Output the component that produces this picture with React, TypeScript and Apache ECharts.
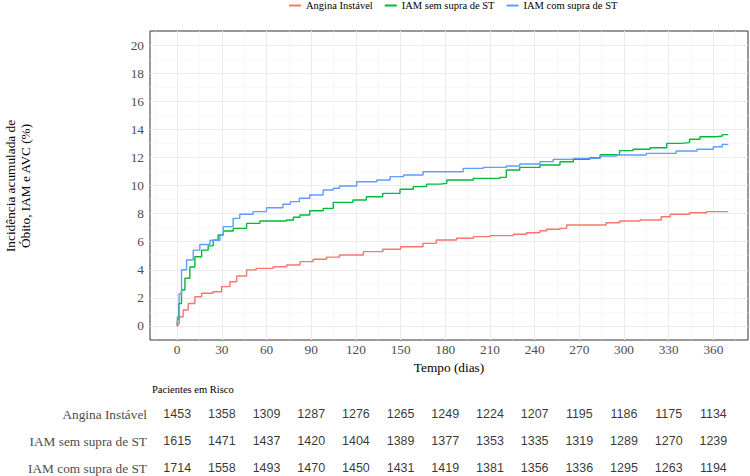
import React, { useEffect, useRef } from "react";
import * as echarts from "echarts";

// ---------- data ----------
const seriesNames = ["Angina Instável", "IAM sem supra de ST", "IAM com supra de ST"];

// [day, cumulative incidence %]
const anginaPoints: [number, number][] = [
  [0, 0], [0.5, 0.15], [1.4, 0.66], [4, 1.14], [7.4, 1.6], [11.9, 2.08], [16.4, 2.33], [24, 2.44],
  [29.8, 2.8], [35.4, 3.15], [39.9, 3.56], [46.6, 3.99], [53, 4.1], [64.5, 4.22], [73.5, 4.34],
  [82.4, 4.58], [91.3, 4.75], [100.3, 4.9], [109, 5.05], [125, 5.29], [138, 5.46], [150, 5.64],
  [165, 5.88], [174, 6.12], [187.6, 6.24], [198.8, 6.36], [210, 6.43], [225.7, 6.53], [234.6, 6.64],
  [243.6, 6.78], [248, 6.88], [257, 6.95], [261.5, 7.19], [288, 7.35], [297, 7.47], [310.8, 7.54],
  [325, 7.78], [331, 7.95], [344, 8.06], [355.5, 8.14], [370, 8.14],
];
const semSupraPoints: [number, number][] = [
  [0, 0], [0.3, 0.5], [1, 1.6], [2.9, 2.56], [5.2, 3.4], [8.5, 4.2], [11.9, 4.93], [16.4, 5.4],
  [20.8, 5.7], [24.2, 6.1], [27.5, 6.48], [31, 6.76], [37.6, 6.95], [46.6, 7.3], [55.5, 7.47],
  [73.5, 7.54], [78, 7.74], [82.4, 7.9], [89, 8.2], [98, 8.37], [104.8, 8.8], [118, 8.97],
  [127, 9.2], [138, 9.44], [149.6, 9.73], [158.5, 9.92], [167.5, 10.1], [176.4, 10.15],
  [181, 10.39], [198.8, 10.51], [216.7, 10.58], [221, 11.1], [230, 11.29], [243.6, 11.46],
  [257, 11.69], [266, 11.86], [277, 11.98], [284, 12.2], [297, 12.48], [306, 12.58],
  [317.5, 12.69], [328.7, 13.0], [337.6, 13.05], [344, 13.29], [351, 13.47], [362, 13.52],
  [366, 13.62], [370, 13.62],
];
const comSupraPoints: [number, number][] = [
  [0, 0], [0.2, 0.66], [1.3, 2.3], [2.9, 4.0], [6.3, 4.7], [10.8, 5.4], [15.2, 5.8], [22, 6.1],
  [28.7, 6.5], [31, 7.07], [37.6, 7.66], [42, 7.95], [51, 8.14], [60, 8.42], [71, 8.66],
  [76, 8.85], [82, 9.09], [89, 9.32], [98, 9.68], [104.8, 9.8], [109, 9.96], [120.5, 10.27],
  [134, 10.39], [143, 10.63], [152, 10.75], [165, 10.98], [192, 11.22], [205.5, 11.29],
  [221, 11.39], [230, 11.53], [243.6, 11.7], [252.5, 11.86], [266, 11.93], [284, 12.1],
  [295, 12.17], [315, 12.29], [335, 12.46], [349, 12.58], [360, 12.76], [366, 12.93], [370, 12.93],
];

const xTicks = [0, 30, 60, 90, 120, 150, 180, 210, 240, 270, 300, 330, 360];
const xMinorTicks = [-15, 15, 45, 75, 105, 135, 165, 195, 225, 255, 285, 315, 345, 375];
const yTicks = [0, 2, 4, 6, 8, 10, 12, 14, 16, 18, 20];
const yMinorTicks = [1, 3, 5, 7, 9, 11, 13, 15, 17, 19];

const riskDays = [0, 30, 60, 90, 120, 150, 180, 210, 240, 270, 300, 330, 360];
const riskAngina = [1453, 1358, 1309, 1287, 1276, 1265, 1249, 1224, 1207, 1195, 1186, 1175, 1134];
const riskSemSupra = [1615, 1471, 1437, 1420, 1404, 1389, 1377, 1353, 1335, 1319, 1289, 1270, 1239];
const riskComSupra = [1714, 1558, 1493, 1470, 1450, 1431, 1419, 1381, 1356, 1336, 1295, 1263, 1194];

// ---------- styles ----------
const colors = ["#F8766D", "#00BA38", "#619CFF"];
const SERIF = "Liberation Serif";
const SANS = "Liberation Sans";
const X_MIN = -18.25;
const X_MAX = 383.25;

export default function App() {
  const ref = useRef<HTMLDivElement>(null);

  useEffect(() => {
    const chart = echarts.init(ref.current!, null, { renderer: "svg" });

    const majorStyle = { color: "#EBEBEB", width: 1, type: "solid" };
    const minorStyle = { color: "#F4F4F4", width: 0.6, type: "solid" };
    const gridLines = [
      ...xMinorTicks.map((v) => ({ xAxis: v, lineStyle: minorStyle })),
      ...yMinorTicks.map((v) => ({ yAxis: v, lineStyle: minorStyle })),
      ...xTicks.map((v) => ({ xAxis: v, lineStyle: majorStyle })),
      ...yTicks.map((v) => ({ yAxis: v, lineStyle: majorStyle })),
    ];

    const riskRows = [
      { name: seriesNames[0], vals: riskAngina },
      { name: seriesNames[1], vals: riskSemSupra },
      { name: seriesNames[2], vals: riskComSupra },
    ];
    const riskData: any[] = [];
    riskRows.forEach((r) =>
      r.vals.forEach((v, i) => riskData.push([riskDays[i], r.name, v]))
    );

    const curves = [anginaPoints, semSupraPoints, comSupraPoints].map((pts, i) => ({
      name: seriesNames[i],
      type: "line",
      step: "end",
      data: pts,
      showSymbol: false,
      symbol: "none",
      color: colors[i],
      lineStyle: { color: colors[i], width: 1.4 },
      z: 5,
      xAxisIndex: 0,
      yAxisIndex: 0,
    }));

    const option: any = {
      animation: false,
      backgroundColor: "#ffffff",
      legend: {
        top: 0,
        left: 289,
        padding: 0,
        itemGap: 12,
        itemWidth: 12,
        itemHeight: 2,
        icon: "rect",
        data: seriesNames,
        textStyle: { fontFamily: SERIF, fontSize: 10.5, color: "#000" },
      },
      grid: [
        { left: 150, width: 598, top: 31, height: 309, show: true, borderColor: "#333333", borderWidth: 1, backgroundColor: "transparent" },
        { left: 150, width: 598, top: 414, height: 54, show: false },
      ],
      xAxis: [
        {
          type: "value",
          gridIndex: 0,
          min: X_MIN,
          max: X_MAX,
          name: "Tempo (dias)",
          nameLocation: "middle",
          nameGap: 20,
          nameTextStyle: { fontFamily: SERIF, fontSize: 13.3, color: "#000" },
          axisLine: { show: false },
          axisTick: { show: true, length: 4, lineStyle: { color: "#333333" }, customValues: xTicks },
          axisLabel: { customValues: xTicks, margin: 3, fontFamily: SERIF, fontSize: 13.3, color: "#4D4D4D" },
          splitLine: { show: false },
        },
        {
          type: "value",
          gridIndex: 1,
          min: X_MIN,
          max: X_MAX,
          show: false,
        },
      ],
      yAxis: [
        {
          type: "value",
          gridIndex: 0,
          min: -1,
          max: 21,
          axisLine: { show: false },
          axisTick: { show: true, length: 4, lineStyle: { color: "#333333" }, customValues: yTicks },
          axisLabel: { customValues: yTicks, margin: 6, fontFamily: SERIF, fontSize: 13.3, color: "#4D4D4D" },
          splitLine: { show: false },
        },
        {
          type: "category",
          gridIndex: 1,
          inverse: true,
          boundaryGap: false,
          data: seriesNames,
          axisLine: { show: false },
          axisTick: { show: false },
          axisLabel: { margin: 3, fontFamily: SERIF, fontSize: 13.3, color: "#4D4D4D" },
          splitLine: { show: false },
        },
      ],
      graphic: [
        {
          type: "text",
          x: 18,
          y: 186,
          rotation: Math.PI / 2,
          style: {
            text: "Incidência acumulada de\nÓbito, IAM e AVC (%)",
            fontFamily: SERIF,
            fontSize: 13.3,
            lineHeight: 15,
            fill: "#000",
            align: "center",
            verticalAlign: "middle",
          },
        },
        {
          type: "text",
          x: 152,
          y: 389,
          style: {
            text: "Pacientes em Risco",
            fontFamily: SERIF,
            fontSize: 10.5,
            fill: "#000",
            align: "left",
            verticalAlign: "middle",
          },
        },
      ],
      series: [
        {
          name: "grid",
          type: "line",
          data: [],
          xAxisIndex: 0,
          yAxisIndex: 0,
          z: 1,
          silent: true,
          markLine: {
            silent: true,
            symbol: ["none", "none"],
            label: { show: false },
            animation: false,
            data: gridLines,
          },
        },
        ...curves,
        {
          name: "risk",
          type: "scatter",
          xAxisIndex: 1,
          yAxisIndex: 1,
          data: riskData,
          symbolSize: 1,
          itemStyle: { color: "transparent" },
          silent: true,
          label: {
            show: true,
            position: "inside",
            formatter: (p: any) => String(p.value[2]),
            fontFamily: SANS,
            fontSize: 12.5,
            color: "#000",
          },
        },
      ],
    };

    chart.setOption(option);
    return () => chart.dispose();
  }, []);

  return (
    <div
      ref={ref}
      style={{ position: "absolute", left: 0, top: 0, width: 750, height: 476 }}
    />
  );
}
